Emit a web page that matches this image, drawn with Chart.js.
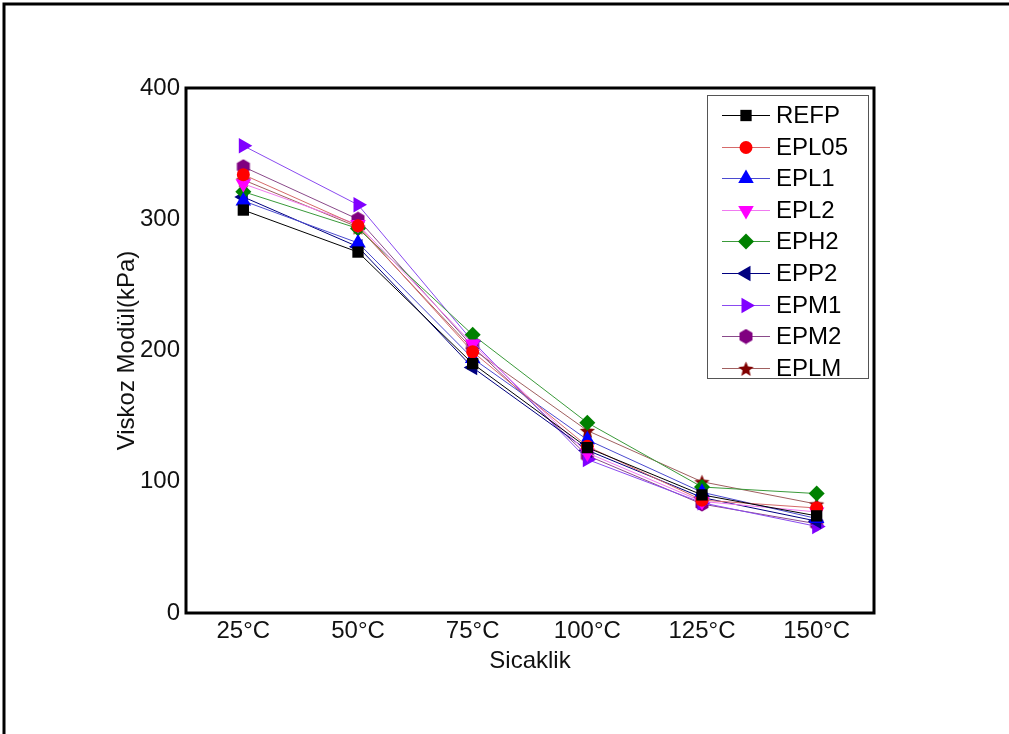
<!DOCTYPE html>
<html>
<head>
<meta charset="utf-8">
<script src="https://cdn.jsdelivr.net/npm/chart.js@4.4.1/dist/chart.umd.min.js"></script>
<style>
  html, body { margin: 0; padding: 0; background: #fff; }
</style>
</head>
<body>
<canvas id="myChart" width="1009" height="734"></canvas>
<script>
// data (kPa)
const categories = ["25°C", "50°C", "75°C", "100°C", "125°C", "150°C"];
const yTicks = [0, 100, 200, 300, 400];
const refp  = [307, 275, 190, 126, 90, 74];
const epl05 = [334, 295, 199, 127, 86, 80];
const epl1  = [314, 282, 194, 132, 92, 72];
const epl2  = [327, 296, 205, 122, 85, 77];
const eph2  = [321, 293, 212, 145, 96, 91];
const epp2  = [317, 279, 187, 124, 88, 70];
const epm1  = [356, 311, 207, 117, 84, 66];
const epm2  = [340, 300, 203, 120, 83, 68];
const eplm  = [330, 294, 201, 139, 100, 83];

Chart.defaults.font.family = "'Liberation Sans', Arial, sans-serif";
Chart.defaults.color = "#111";

// filled hexagon and star markers
function makeMarker(kind, color, size) {
  const c = document.createElement("canvas");
  c.width = size; c.height = size;
  const g = c.getContext("2d");
  const cx = size / 2, cy = size / 2, r = size / 2 - 0.5;
  g.fillStyle = color;
  g.beginPath();
  if (kind === "hex") {
    for (let k = 0; k < 6; k++) {
      const a = Math.PI / 6 + k * Math.PI / 3;
      const px = cx + r * Math.cos(a), py = cy + r * Math.sin(a);
      k ? g.lineTo(px, py) : g.moveTo(px, py);
    }
  } else {
    for (let k = 0; k < 10; k++) {
      const a = -Math.PI / 2 + k * Math.PI / 5;
      const rr = k % 2 ? r * 0.45 : r;
      const px = cx + rr * Math.cos(a), py = cy + 1 + rr * Math.sin(a);
      k ? g.lineTo(px, py) : g.moveTo(px, py);
    }
  }
  g.closePath();
  g.fill();
  return c;
}
const hexMark = makeMarker("hex", "#800080", 16);
const starMark = makeMarker("star", "#800000", 17);

function series(label, data, line, mark, style, radius, rot) {
  return {
    label: label, data: data,
    borderColor: line, borderWidth: 1,
    pointBackgroundColor: mark, pointBorderWidth: 0,
    pointStyle: style, pointRadius: radius, pointHoverRadius: radius,
    pointRotation: rot || 0, fill: false, tension: 0
  };
}

const datasets = [
  series("REFP",  refp,  "#000000", "#000000", "rect", 8),
  series("EPL05", epl05, "#d66a6a", "#ff0000", "circle", 6.5),
  series("EPL1",  epl1,  "#4a4ad0", "#0000ff", "triangle", 9),
  series("EPL2",  epl2,  "#f07af0", "#ff00ff", "triangle", 9, 180),
  series("EPH2",  eph2,  "#3a9a3a", "#008000", "rectRot", 8),
  series("EPP2",  epp2,  "#000080", "#000080", "triangle", 9, -90),
  series("EPM1",  epm1,  "#8a4af0", "#8000ff", "triangle", 9, 90),
  series("EPM2",  epm2,  "#8a4a8a", "#800080", hexMark, 8),
  series("EPLM",  eplm,  "#a06060", "#800000", starMark, 8.5)
];

// outer frame of the figure (top and left edges)
const frame = {
  id: "frame",
  beforeDraw(chart) {
    const ctx = chart.ctx;
    ctx.save();
    ctx.fillStyle = "#fff";
    ctx.fillRect(0, 0, chart.width, chart.height);
    ctx.strokeStyle = "#000";
    ctx.lineWidth = 3;
    ctx.beginPath();
    ctx.moveTo(4, chart.height);
    ctx.lineTo(4, 4);
    ctx.lineTo(chart.width, 4);
    ctx.stroke();
    ctx.restore();
  }
};

// plot box
const plotBox = {
  id: "plotBox",
  beforeDatasetsDraw(chart) {
    const { ctx, chartArea: a } = chart;
    ctx.save();
    ctx.strokeStyle = "#000";
    ctx.lineWidth = 3;
    ctx.strokeRect(a.left, a.top, a.right - a.left, a.bottom - a.top);
    ctx.restore();
  }
};

// legend box inside the plot, top right
const boxLegend = {
  id: "boxLegend",
  afterDraw(chart) {
    const { ctx, chartArea: a } = chart;
    const x0 = a.right - 167, y0 = a.top + 7, w = 161, h = 283;
    ctx.save();
    ctx.fillStyle = "#fff";
    ctx.fillRect(x0, y0, w, h);
    ctx.strokeStyle = "#555";
    ctx.lineWidth = 1;
    ctx.strokeRect(x0 + 0.5, y0 + 0.5, w, h);
    chart.data.datasets.forEach((ds, i) => {
      const y = Math.round(y0 + 20 + i * 31.6) + 0.5;
      ctx.strokeStyle = ds.borderColor;
      ctx.lineWidth = 1;
      ctx.beginPath();
      ctx.moveTo(x0 + 15, y);
      ctx.lineTo(x0 + 63, y);
      ctx.stroke();
      ctx.fillStyle = ds.pointBackgroundColor;
      Chart.helpers.drawPoint(ctx, {
        pointStyle: ds.pointStyle, rotation: ds.pointRotation,
        radius: ds.pointRadius, borderWidth: 0
      }, x0 + 39, y);
      ctx.fillStyle = "#000";
      ctx.font = "24px 'Liberation Sans', Arial, sans-serif";
      ctx.textBaseline = "middle";
      ctx.textAlign = "left";
      ctx.fillText(ds.label, x0 + 69, y + 1);
    });
    ctx.restore();
  }
};

const myChart = new Chart("myChart", {
  type: "line",
  data: { labels: categories, datasets: datasets },
  plugins: [frame, plotBox, boxLegend],
  options: {
    responsive: false,
    animation: false,
    layout: { padding: { left: 109, right: 135, top: 88, bottom: 54 } },
    plugins: { legend: { display: false }, tooltip: { enabled: false } },
    scales: {
      x: {
        offset: true,
        grid: { display: false, drawTicks: false },
        border: { display: false },
        ticks: { padding: 4, color: "#111", font: { size: 24 } },
        title: { display: true, text: "Sicaklik", color: "#111", font: { size: 24 } },
        afterFit(scale) { scale.height = 67; }
      },
      y: {
        min: yTicks[0], max: yTicks[yTicks.length - 1],
        grid: { display: false, drawTicks: false },
        border: { display: false },
        afterBuildTicks(scale) { scale.ticks = yTicks.map(v => ({ value: v })); },
        ticks: { padding: 6, color: "#111", font: { size: 24 } },
        title: { display: true, text: "Viskoz Modül(kPa)", color: "#111", font: { size: 24 } },
        afterFit(scale) { scale.width = 77; }
      }
    }
  }
});
</script>
</body>
</html>
